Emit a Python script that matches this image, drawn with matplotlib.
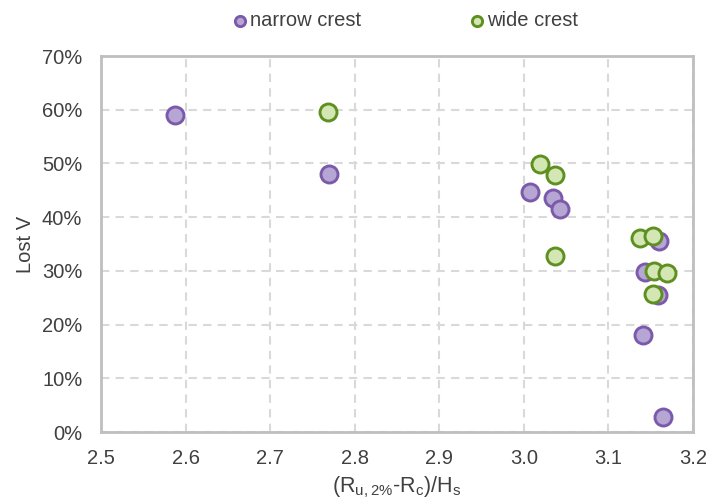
import numpy as np
import matplotlib.pyplot as plt
from matplotlib.ticker import PercentFormatter

plt.rcParams['font.family'] = ['Liberation Sans', 'DejaVu Sans']

narrow_x = [2.588, 2.770, 3.007, 3.034, 3.043, 3.160, 3.143, 3.159, 3.141, 3.165]
narrow_y = [0.590, 0.480, 0.447, 0.436, 0.415, 0.356, 0.298, 0.255, 0.181, 0.028]
wide_x = [2.768, 3.019, 3.037, 3.037, 3.137, 3.153, 3.154, 3.169, 3.153]
wide_y = [0.596, 0.499, 0.479, 0.328, 0.361, 0.365, 0.300, 0.296, 0.257]

xticks = [2.5, 2.6, 2.7, 2.8, 2.9, 3.0, 3.1, 3.2]
yticks = [0, 0.1, 0.2, 0.3, 0.4, 0.5, 0.6, 0.7]

txt = '#404040'
fig = plt.figure(figsize=(7.11, 5.03), dpi=100)
ax = fig.add_axes([101/711, 1-432/503, 592/711, 376/503])

ax.scatter(narrow_x, narrow_y, s=150, facecolor='#b6a6d3', edgecolor='#7b5aab',
           linewidth=2.1, zorder=3, label='narrow crest')
ax.scatter(wide_x, wide_y, s=150, facecolor='#d5e6b5', edgecolor='#5e9020',
           linewidth=2.1, zorder=4, label='wide crest')

ax.set_xlim(2.5, 3.2)
ax.set_ylim(0, 0.7)
ax.set_xticks(xticks)
ax.set_yticks(yticks)
ax.set_xticklabels([f'{v:.1f}' for v in xticks])
ax.yaxis.set_major_formatter(PercentFormatter(1.0, decimals=0))
ax.tick_params(length=0, labelsize=14.5, colors=txt)
ax.tick_params(axis='x', pad=12)
ax.tick_params(axis='y', pad=13.5)
ax.grid(True, ls=(0, (4, 3)), color='#d9d9d9', lw=1.5, zorder=0)
for s in ax.spines.values():
    s.set_color('#bfbfbf')
    s.set_linewidth(2)

ax.set_ylabel('Lost V', fontsize=14.5, color=txt, labelpad=5)
ax.set_xlabel(r'(R$_{\mathregular{u,2\%}}$-R$_{\mathregular{c}}$)/H$_{\mathregular{s}}$',
              fontsize=15.5, color=txt, labelpad=5)

leg = fig.legend(loc='center', bbox_to_anchor=(404/711, 1-21/503), ncol=2, frameon=False,
                 fontsize=14.5, markerscale=0.6, handletextpad=0.0, columnspacing=5.25,
                 handlelength=1.0)
for t in leg.get_texts():
    t.set_color(txt)

fig.savefig('out.png', dpi=100)
